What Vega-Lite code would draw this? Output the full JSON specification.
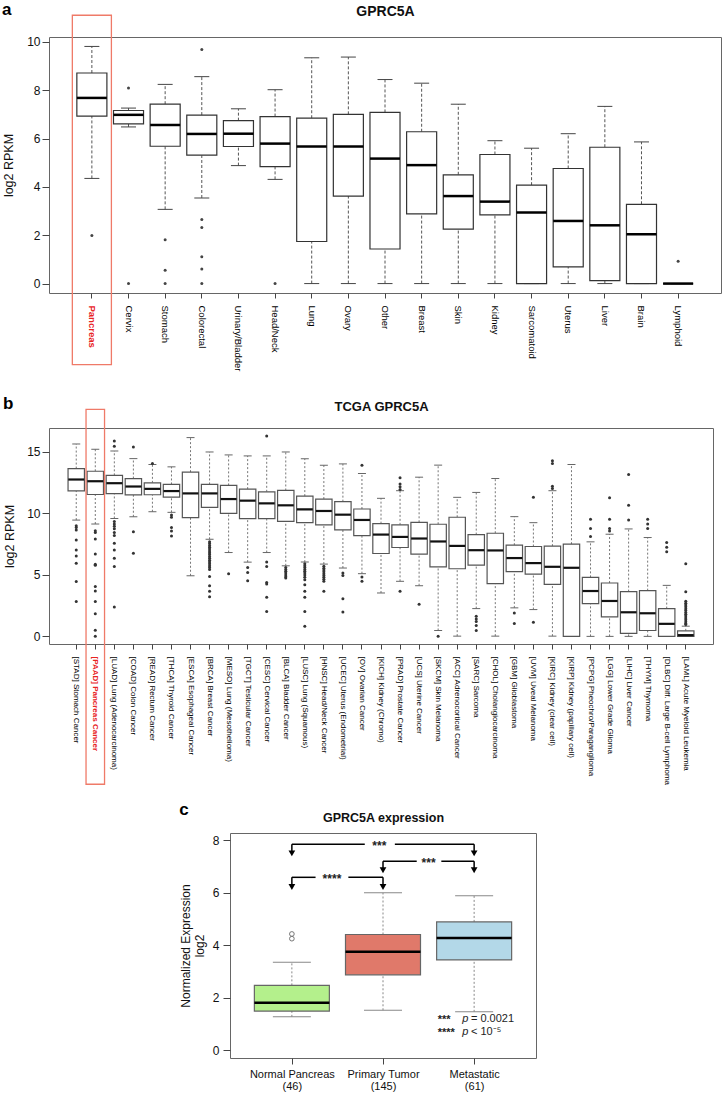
{
 "$schema": "https://vega.github.io/schema/vega-lite/v6.json",
 "padding": {"left": 1, "top": 0, "right": 0, "bottom": 0},
 "background": "white",
 "config": {
  "view": {"stroke": "#666", "strokeWidth": 1},
  "font": "Liberation Sans",
  "axis": {"grid": false, "domain": false, "tickColor": "#444", "labelColor": "#111", "titleColor": "#111", "titleFontWeight": "normal", "labelFont": "Liberation Sans", "titleFont": "Liberation Sans"},
  "title": {"color": "#000", "font": "Liberation Sans"}
 },
 "datasets": {
  "a_box": [
   {"cat": "Pancreas", "lower": 4.35, "q1": 6.93, "median": 7.68, "q3": 8.71, "upper": 9.81},
   {"cat": "Cervix", "lower": 6.48, "q1": 6.61, "median": 6.98, "q3": 7.16, "upper": 7.26},
   {"cat": "Stomach", "lower": 3.07, "q1": 5.68, "median": 6.56, "q3": 7.42, "upper": 8.24},
   {"cat": "Colorectal", "lower": 3.54, "q1": 5.31, "median": 6.19, "q3": 6.97, "upper": 8.56},
   {"cat": "Urinary/Bladder", "lower": 4.88, "q1": 5.67, "median": 6.2, "q3": 6.74, "upper": 7.23},
   {"cat": "Head/Neck", "lower": 4.31, "q1": 4.84, "median": 5.79, "q3": 6.91, "upper": 8.02},
   {"cat": "Lung", "lower": 0, "q1": 1.74, "median": 5.67, "q3": 6.84, "upper": 9.34},
   {"cat": "Ovary", "lower": 0, "q1": 3.62, "median": 5.67, "q3": 7.0, "upper": 9.37},
   {"cat": "Other", "lower": 0, "q1": 1.43, "median": 5.17, "q3": 7.08, "upper": 8.44},
   {"cat": "Breast", "lower": 0, "q1": 2.88, "median": 4.9, "q3": 6.28, "upper": 8.29},
   {"cat": "Skin", "lower": 0, "q1": 2.25, "median": 3.62, "q3": 4.5, "upper": 7.42},
   {"cat": "Kidney", "lower": 0, "q1": 2.84, "median": 3.39, "q3": 5.34, "upper": 5.91},
   {"cat": "Sarcomatoid", "lower": 0, "q1": 0, "median": 2.94, "q3": 4.07, "upper": 5.6},
   {"cat": "Uterus", "lower": 0, "q1": 0.69, "median": 2.59, "q3": 4.76, "upper": 6.2},
   {"cat": "Liver", "lower": 0, "q1": 0.12, "median": 2.41, "q3": 5.64, "upper": 7.33},
   {"cat": "Brain", "lower": 0, "q1": 0, "median": 2.04, "q3": 3.28, "upper": 5.86},
   {"cat": "Lymphoid", "lower": 0, "q1": 0, "median": 0, "q3": 0, "upper": 0}
  ],
  "a_out": [
   {"cat": "Pancreas", "v": 1.99},
   {"cat": "Cervix", "v": 8.09}, {"cat": "Cervix", "v": 0},
   {"cat": "Stomach", "v": 1.81}, {"cat": "Stomach", "v": 0.55}, {"cat": "Stomach", "v": 0},
   {"cat": "Colorectal", "v": 9.68}, {"cat": "Colorectal", "v": 2.65}, {"cat": "Colorectal", "v": 2.32}, {"cat": "Colorectal", "v": 1.11}, {"cat": "Colorectal", "v": 0.6}, {"cat": "Colorectal", "v": 0},
   {"cat": "Head/Neck", "v": 0},
   {"cat": "Lymphoid", "v": 0.92}
  ],
  "a_hl": [{"cat": "Pancreas", "top": 11.1, "bottom": -3.35}],
  "b_box": [
   {"cat": "[STAD] Stomach Cancer", "lower": 9.46, "q1": 11.84, "median": 12.76, "q3": 13.65, "upper": 15.65},
   {"cat": "[PAAD] Pancreas Cancer", "lower": 9.14, "q1": 11.54, "median": 12.62, "q3": 13.43, "upper": 15.22},
   {"cat": "[LUAD] Lung (Adenocarcinoma)", "lower": 9.59, "q1": 11.62, "median": 12.46, "q3": 13.1, "upper": 15.08},
   {"cat": "[COAD] Colon Cancer", "lower": 9.73, "q1": 11.51, "median": 12.19, "q3": 12.84, "upper": 14.46},
   {"cat": "[READ] Rectum Cancer", "lower": 10.14, "q1": 11.52, "median": 12.0, "q3": 12.49, "upper": 13.98},
   {"cat": "[THCA] Thyroid Cancer", "lower": 10.09, "q1": 11.33, "median": 11.82, "q3": 12.36, "upper": 13.79},
   {"cat": "[ESCA] Esophageal Cancer", "lower": 4.93, "q1": 9.66, "median": 11.63, "q3": 13.36, "upper": 16.17},
   {"cat": "[BRCA] Breast Cancer", "lower": 7.9, "q1": 10.5, "median": 11.63, "q3": 12.36, "upper": 15.0},
   {"cat": "[MESO] Lung (Mesothelioma)", "lower": 6.82, "q1": 10.01, "median": 11.17, "q3": 12.28, "upper": 14.76},
   {"cat": "[TGCT] Testicular Cancer", "lower": 6.04, "q1": 9.58, "median": 11.04, "q3": 11.98, "upper": 14.68},
   {"cat": "[CESC] Cervical Cancer", "lower": 6.82, "q1": 9.58, "median": 10.82, "q3": 11.76, "upper": 14.68},
   {"cat": "[BLCA] Bladder Cancer", "lower": 5.74, "q1": 9.36, "median": 10.66, "q3": 11.87, "upper": 15.0},
   {"cat": "[LUSC] Lung (Squamous)", "lower": 6.04, "q1": 9.25, "median": 10.33, "q3": 11.41, "upper": 14.44},
   {"cat": "[HNSC] Head/Neck Cancer", "lower": 5.88, "q1": 9.07, "median": 10.2, "q3": 11.17, "upper": 13.92},
   {"cat": "[UCEC] Uterus (Endometrial)", "lower": 5.56, "q1": 8.66, "median": 9.9, "q3": 10.96, "upper": 14.03},
   {"cat": "[OV] Ovarian Cancer", "lower": 5.1, "q1": 8.2, "median": 9.47, "q3": 10.36, "upper": 13.25},
   {"cat": "[KICH] Kidney (Chromo)", "lower": 3.53, "q1": 6.74, "median": 8.28, "q3": 9.17, "upper": 11.23},
   {"cat": "[PRAD] Prostate Cancer", "lower": 4.48, "q1": 7.23, "median": 8.09, "q3": 9.07, "upper": 11.85},
   {"cat": "[UCS] Uterine Cancer", "lower": 4.12, "q1": 6.69, "median": 7.96, "q3": 9.28, "upper": 12.95},
   {"cat": "[SKCM] Skin Melanoma", "lower": 0.48, "q1": 5.66, "median": 7.72, "q3": 9.12, "upper": 13.93},
   {"cat": "[ACC] Adrenocortical Cancer", "lower": 0.02, "q1": 5.5, "median": 7.36, "q3": 9.69, "upper": 11.31},
   {"cat": "[SARC] Sarcoma", "lower": 2.26, "q1": 5.8, "median": 7.01, "q3": 8.28, "upper": 11.71},
   {"cat": "[CHOL] Cholangiocarcinoma", "lower": 0.02, "q1": 4.29, "median": 6.99, "q3": 8.39, "upper": 12.84},
   {"cat": "[GBM] Glioblastoma", "lower": 2.32, "q1": 5.26, "median": 6.37, "q3": 7.42, "upper": 9.74},
   {"cat": "[UVM] Uveal Melanoma", "lower": 2.18, "q1": 5.07, "median": 5.96, "q3": 7.31, "upper": 9.25},
   {"cat": "[KIRC] Kidney (clear cell)", "lower": 0.02, "q1": 4.23, "median": 5.66, "q3": 7.34, "upper": 11.85},
   {"cat": "[KIRP] Kidney (papillary cell)", "lower": 0, "q1": 0, "median": 5.58, "q3": 7.5, "upper": 13.98},
   {"cat": "[PCPG] Pheochro/Paraganglioma", "lower": 0, "q1": 2.67, "median": 3.69, "q3": 4.8, "upper": 7.69},
   {"cat": "[LGG] Lower Grade Glioma", "lower": 0, "q1": 1.59, "median": 2.88, "q3": 4.34, "upper": 8.31},
   {"cat": "[LIHC] Liver Cancer", "lower": 0, "q1": 0.24, "median": 1.96, "q3": 3.64, "upper": 8.74},
   {"cat": "[THYM] Thymoma", "lower": 0, "q1": 0.48, "median": 1.88, "q3": 3.72, "upper": 8.04},
   {"cat": "[DLBC] Diff. Large B-cell Lymphoma", "lower": 0, "q1": 0, "median": 1.02, "q3": 2.26, "upper": 4.15},
   {"cat": "[LAML] Acute Myeloid Leukemia", "lower": 0, "q1": 0, "median": 0.1, "q3": 0.45, "upper": 0.83}
  ],
  "b_out": [
   {"cat": "[STAD] Stomach Cancer", "v": 9.0}, {"cat": "[STAD] Stomach Cancer", "v": 8.85}, {"cat": "[STAD] Stomach Cancer", "v": 8.65}, {"cat": "[STAD] Stomach Cancer", "v": 7.84}, {"cat": "[STAD] Stomach Cancer", "v": 7.03}, {"cat": "[STAD] Stomach Cancer", "v": 6.54}, {"cat": "[STAD] Stomach Cancer", "v": 5.95}, {"cat": "[STAD] Stomach Cancer", "v": 4.46}, {"cat": "[STAD] Stomach Cancer", "v": 2.84},
   {"cat": "[PAAD] Pancreas Cancer", "v": 8.6}, {"cat": "[PAAD] Pancreas Cancer", "v": 8.45}, {"cat": "[PAAD] Pancreas Cancer", "v": 7.92}, {"cat": "[PAAD] Pancreas Cancer", "v": 6.7}, {"cat": "[PAAD] Pancreas Cancer", "v": 5.86}, {"cat": "[PAAD] Pancreas Cancer", "v": 5.78}, {"cat": "[PAAD] Pancreas Cancer", "v": 4.05}, {"cat": "[PAAD] Pancreas Cancer", "v": 3.7}, {"cat": "[PAAD] Pancreas Cancer", "v": 2.84}, {"cat": "[PAAD] Pancreas Cancer", "v": 1.84}, {"cat": "[PAAD] Pancreas Cancer", "v": 0.49}, {"cat": "[PAAD] Pancreas Cancer", "v": 0.02},
   {"cat": "[LUAD] Lung (Adenocarcinoma)", "v": 15.9}, {"cat": "[LUAD] Lung (Adenocarcinoma)", "v": 15.46}, {"cat": "[LUAD] Lung (Adenocarcinoma)", "v": 9.35}, {"cat": "[LUAD] Lung (Adenocarcinoma)", "v": 9.15}, {"cat": "[LUAD] Lung (Adenocarcinoma)", "v": 8.95}, {"cat": "[LUAD] Lung (Adenocarcinoma)", "v": 8.75}, {"cat": "[LUAD] Lung (Adenocarcinoma)", "v": 8.45}, {"cat": "[LUAD] Lung (Adenocarcinoma)", "v": 8.2}, {"cat": "[LUAD] Lung (Adenocarcinoma)", "v": 7.57}, {"cat": "[LUAD] Lung (Adenocarcinoma)", "v": 7.03}, {"cat": "[LUAD] Lung (Adenocarcinoma)", "v": 6.35}, {"cat": "[LUAD] Lung (Adenocarcinoma)", "v": 5.68}, {"cat": "[LUAD] Lung (Adenocarcinoma)", "v": 2.38},
   {"cat": "[COAD] Colon Cancer", "v": 15.4}, {"cat": "[COAD] Colon Cancer", "v": 8.51}, {"cat": "[COAD] Colon Cancer", "v": 6.76},
   {"cat": "[READ] Rectum Cancer", "v": 14.06},
   {"cat": "[THCA] Thyroid Cancer", "v": 9.87}, {"cat": "[THCA] Thyroid Cancer", "v": 9.69}, {"cat": "[THCA] Thyroid Cancer", "v": 8.85}, {"cat": "[THCA] Thyroid Cancer", "v": 8.58}, {"cat": "[THCA] Thyroid Cancer", "v": 8.17},
   {"cat": "[BRCA] Breast Cancer", "v": 7.7}, {"cat": "[BRCA] Breast Cancer", "v": 7.55}, {"cat": "[BRCA] Breast Cancer", "v": 7.4}, {"cat": "[BRCA] Breast Cancer", "v": 7.25}, {"cat": "[BRCA] Breast Cancer", "v": 7.1}, {"cat": "[BRCA] Breast Cancer", "v": 6.95}, {"cat": "[BRCA] Breast Cancer", "v": 6.8}, {"cat": "[BRCA] Breast Cancer", "v": 6.65}, {"cat": "[BRCA] Breast Cancer", "v": 6.5}, {"cat": "[BRCA] Breast Cancer", "v": 6.35}, {"cat": "[BRCA] Breast Cancer", "v": 6.2}, {"cat": "[BRCA] Breast Cancer", "v": 6.05}, {"cat": "[BRCA] Breast Cancer", "v": 5.9}, {"cat": "[BRCA] Breast Cancer", "v": 5.75}, {"cat": "[BRCA] Breast Cancer", "v": 5.6}, {"cat": "[BRCA] Breast Cancer", "v": 5.45}, {"cat": "[BRCA] Breast Cancer", "v": 4.88}, {"cat": "[BRCA] Breast Cancer", "v": 4.12}, {"cat": "[BRCA] Breast Cancer", "v": 3.67}, {"cat": "[BRCA] Breast Cancer", "v": 3.23},
   {"cat": "[MESO] Lung (Mesothelioma)", "v": 5.1},
   {"cat": "[TGCT] Testicular Cancer", "v": 5.61}, {"cat": "[TGCT] Testicular Cancer", "v": 5.2}, {"cat": "[TGCT] Testicular Cancer", "v": 4.53},
   {"cat": "[CESC] Cervical Cancer", "v": 16.3}, {"cat": "[CESC] Cervical Cancer", "v": 6.04}, {"cat": "[CESC] Cervical Cancer", "v": 5.69}, {"cat": "[CESC] Cervical Cancer", "v": 4.39}, {"cat": "[CESC] Cervical Cancer", "v": 4.26}, {"cat": "[CESC] Cervical Cancer", "v": 3.18}, {"cat": "[CESC] Cervical Cancer", "v": 2.02},
   {"cat": "[BLCA] Bladder Cancer", "v": 5.6}, {"cat": "[BLCA] Bladder Cancer", "v": 5.45}, {"cat": "[BLCA] Bladder Cancer", "v": 5.3}, {"cat": "[BLCA] Bladder Cancer", "v": 5.15}, {"cat": "[BLCA] Bladder Cancer", "v": 5.0}, {"cat": "[BLCA] Bladder Cancer", "v": 4.85}, {"cat": "[BLCA] Bladder Cancer", "v": 4.75},
   {"cat": "[LUSC] Lung (Squamous)", "v": 5.9}, {"cat": "[LUSC] Lung (Squamous)", "v": 5.75}, {"cat": "[LUSC] Lung (Squamous)", "v": 5.6}, {"cat": "[LUSC] Lung (Squamous)", "v": 5.45}, {"cat": "[LUSC] Lung (Squamous)", "v": 5.3}, {"cat": "[LUSC] Lung (Squamous)", "v": 5.15}, {"cat": "[LUSC] Lung (Squamous)", "v": 5.0}, {"cat": "[LUSC] Lung (Squamous)", "v": 4.8}, {"cat": "[LUSC] Lung (Squamous)", "v": 4.6}, {"cat": "[LUSC] Lung (Squamous)", "v": 4.2}, {"cat": "[LUSC] Lung (Squamous)", "v": 3.67}, {"cat": "[LUSC] Lung (Squamous)", "v": 3.18}, {"cat": "[LUSC] Lung (Squamous)", "v": 2.02}, {"cat": "[LUSC] Lung (Squamous)", "v": 0.83},
   {"cat": "[HNSC] Head/Neck Cancer", "v": 5.7}, {"cat": "[HNSC] Head/Neck Cancer", "v": 5.55}, {"cat": "[HNSC] Head/Neck Cancer", "v": 5.4}, {"cat": "[HNSC] Head/Neck Cancer", "v": 5.25}, {"cat": "[HNSC] Head/Neck Cancer", "v": 5.1}, {"cat": "[HNSC] Head/Neck Cancer", "v": 4.95}, {"cat": "[HNSC] Head/Neck Cancer", "v": 4.8}, {"cat": "[HNSC] Head/Neck Cancer", "v": 4.65}, {"cat": "[HNSC] Head/Neck Cancer", "v": 4.48}, {"cat": "[HNSC] Head/Neck Cancer", "v": 3.67},
   {"cat": "[UCEC] Uterus (Endometrial)", "v": 5.15}, {"cat": "[UCEC] Uterus (Endometrial)", "v": 4.96}, {"cat": "[UCEC] Uterus (Endometrial)", "v": 3.07}, {"cat": "[UCEC] Uterus (Endometrial)", "v": 1.99},
   {"cat": "[OV] Ovarian Cancer", "v": 13.93}, {"cat": "[OV] Ovarian Cancer", "v": 4.83}, {"cat": "[OV] Ovarian Cancer", "v": 4.48},
   {"cat": "[PRAD] Prostate Cancer", "v": 12.9}, {"cat": "[PRAD] Prostate Cancer", "v": 12.39}, {"cat": "[PRAD] Prostate Cancer", "v": 12.17}, {"cat": "[PRAD] Prostate Cancer", "v": 11.95}, {"cat": "[PRAD] Prostate Cancer", "v": 3.67},
   {"cat": "[UCS] Uterine Cancer", "v": 2.61},
   {"cat": "[SKCM] Skin Melanoma", "v": 0.02},
   {"cat": "[SARC] Sarcoma", "v": 1.64}, {"cat": "[SARC] Sarcoma", "v": 1.42}, {"cat": "[SARC] Sarcoma", "v": 1.21}, {"cat": "[SARC] Sarcoma", "v": 0.88}, {"cat": "[SARC] Sarcoma", "v": 0.48},
   {"cat": "[GBM] Glioblastoma", "v": 1.91}, {"cat": "[GBM] Glioblastoma", "v": 1.05},
   {"cat": "[UVM] Uveal Melanoma", "v": 11.31}, {"cat": "[UVM] Uveal Melanoma", "v": 1.15},
   {"cat": "[KIRC] Kidney (clear cell)", "v": 14.28}, {"cat": "[KIRC] Kidney (clear cell)", "v": 14.06}, {"cat": "[KIRC] Kidney (clear cell)", "v": 12.22}, {"cat": "[KIRC] Kidney (clear cell)", "v": 12.03},
   {"cat": "[PCPG] Pheochro/Paraganglioma", "v": 9.52}, {"cat": "[PCPG] Pheochro/Paraganglioma", "v": 8.77}, {"cat": "[PCPG] Pheochro/Paraganglioma", "v": 8.12},
   {"cat": "[LGG] Lower Grade Glioma", "v": 11.28}, {"cat": "[LGG] Lower Grade Glioma", "v": 9.52}, {"cat": "[LGG] Lower Grade Glioma", "v": 8.77}, {"cat": "[LGG] Lower Grade Glioma", "v": 8.58},
   {"cat": "[LIHC] Liver Cancer", "v": 13.17}, {"cat": "[LIHC] Liver Cancer", "v": 10.66}, {"cat": "[LIHC] Liver Cancer", "v": 9.47},
   {"cat": "[THYM] Thymoma", "v": 9.52}, {"cat": "[THYM] Thymoma", "v": 9.15}, {"cat": "[THYM] Thymoma", "v": 8.77},
   {"cat": "[DLBC] Diff. Large B-cell Lymphoma", "v": 7.63}, {"cat": "[DLBC] Diff. Large B-cell Lymphoma", "v": 7.26}, {"cat": "[DLBC] Diff. Large B-cell Lymphoma", "v": 6.88},
   {"cat": "[LAML] Acute Myeloid Leukemia", "v": 5.91}, {"cat": "[LAML] Acute Myeloid Leukemia", "v": 3.64}, {"cat": "[LAML] Acute Myeloid Leukemia", "v": 2.85}, {"cat": "[LAML] Acute Myeloid Leukemia", "v": 2.7}, {"cat": "[LAML] Acute Myeloid Leukemia", "v": 2.55}, {"cat": "[LAML] Acute Myeloid Leukemia", "v": 2.4}, {"cat": "[LAML] Acute Myeloid Leukemia", "v": 2.25}, {"cat": "[LAML] Acute Myeloid Leukemia", "v": 2.1}, {"cat": "[LAML] Acute Myeloid Leukemia", "v": 1.95}, {"cat": "[LAML] Acute Myeloid Leukemia", "v": 1.8}, {"cat": "[LAML] Acute Myeloid Leukemia", "v": 1.65}, {"cat": "[LAML] Acute Myeloid Leukemia", "v": 1.5}, {"cat": "[LAML] Acute Myeloid Leukemia", "v": 1.35}, {"cat": "[LAML] Acute Myeloid Leukemia", "v": 1.2}, {"cat": "[LAML] Acute Myeloid Leukemia", "v": 1.05}, {"cat": "[LAML] Acute Myeloid Leukemia", "v": 0.96}
  ],
  "b_hl": [{"cat": "[PAAD] Pancreas Cancer", "top": 18.47, "bottom": -12.03}],
  "c_box": [
   {"group": "Normal Pancreas", "x": 1, "lower": 1.27, "q1": 1.49, "median": 1.81, "q3": 2.47, "upper": 3.35},
   {"group": "Primary Tumor", "x": 2, "lower": 1.52, "q1": 2.87, "median": 3.75, "q3": 4.41, "upper": 6.0},
   {"group": "Metastatic", "x": 3, "lower": 1.46, "q1": 3.44, "median": 4.28, "q3": 4.89, "upper": 5.89}
  ],
  "c_out": [{"x": 1, "v": 4.25}, {"x": 1, "v": 4.43}],
  "c_brackets": [
   {"x": 1, "x2": 1.8, "y": 7.85}, {"x": 2.13, "x2": 3, "y": 7.85},
   {"x": 2, "x2": 2.37, "y": 7.2}, {"x": 2.64, "x2": 3, "y": 7.2},
   {"x": 1, "x2": 1.26, "y": 6.59}, {"x": 1.62, "x2": 2, "y": 6.59}
  ],
  "c_stems": [
   {"x": 1, "y": 7.85, "y2": 7.5}, {"x": 3, "y": 7.85, "y2": 7.5},
   {"x": 2, "y": 7.2, "y2": 6.86}, {"x": 3, "y": 7.2, "y2": 6.86},
   {"x": 1, "y": 6.59, "y2": 6.22}, {"x": 2, "y": 6.59, "y2": 6.22}
  ],
  "c_heads": [
   {"x": 1, "y": 7.5}, {"x": 3, "y": 7.5},
   {"x": 2, "y": 6.86}, {"x": 3, "y": 6.86},
   {"x": 1, "y": 6.22}, {"x": 2, "y": 6.22}
  ],
  "c_stars": [
   {"x": 1.96, "y": 7.78, "t": "***"}, {"x": 2.5, "y": 7.13, "t": "***"}, {"x": 1.44, "y": 6.52, "t": "****"}
  ],
  "c_pval": [
   {"x": 2.6, "y": 1.15, "t": "***"}, {"x": 2.6, "y": 0.65, "t": "****"}
  ],
  "c_pitalic": [
   {"x": 2.87, "y": 1.2, "t": "p"}, {"x": 2.87, "y": 0.7, "t": "p"}
  ],
  "c_ptext": [
   {"x": 2.965, "y": 1.2, "t": "= 0.0021"}, {"x": 2.965, "y": 0.7, "t": "< 10⁻⁵"}
  ]
 },
 "spacing": 22,
 "vconcat": [
  {
   "title": {"text": "a", "anchor": "start", "frame": "bounds", "fontSize": 17, "fontWeight": "bold", "offset": -15},
   "width": 672, "height": 256,
   "encoding": {
    "x": {"field": "cat", "type": "nominal",
     "scale": {"type": "band", "domain": ["Pancreas", "Cervix", "Stomach", "Colorectal", "Urinary/Bladder", "Head/Neck", "Lung", "Ovary", "Other", "Breast", "Skin", "Kidney", "Sarcomatoid", "Uterus", "Liver", "Brain", "Lymphoid"], "paddingInner": 0.18, "paddingOuter": 0.76},
     "axis": null
    }
   },
   "layer": [
    {"data": {"name": "a_box"}, "mark": {"type": "rule", "strokeDash": [3, 2], "color": "#555", "strokeWidth": 1},
     "encoding": {"y": {"field": "lower", "type": "quantitative", "scale": {"domain": [-0.39, 10.2], "nice": false, "zero": false},
       "axis": {"title": "log2 RPKM", "values": [0, 2, 4, 6, 8, 10], "tickSize": 7, "labelPadding": 2, "labelFontSize": 12, "titleFontSize": 12.5, "titlePadding": 12, "minExtent": 22, "maxExtent": 22}},
      "y2": {"field": "q1"}}},
    {"data": {"name": "a_box"}, "mark": {"type": "rule", "strokeDash": [3, 2], "color": "#555", "strokeWidth": 1},
     "encoding": {"y": {"field": "q3", "type": "quantitative"}, "y2": {"field": "upper"}}},
    {"data": {"name": "a_box"}, "mark": {"type": "tick", "size": 15, "thickness": 1, "color": "#444", "opacity": 1},
     "encoding": {"y": {"field": "lower", "type": "quantitative"}}},
    {"data": {"name": "a_box"}, "mark": {"type": "tick", "size": 15, "thickness": 1, "color": "#444", "opacity": 1},
     "encoding": {"y": {"field": "upper", "type": "quantitative"}}},
    {"data": {"name": "a_box"}, "mark": {"type": "bar", "fill": "white", "stroke": "#333", "strokeWidth": 1.2},
     "encoding": {
      "x": {"field": "cat", "type": "nominal",
       "scale": {"type": "band", "domain": ["Pancreas", "Cervix", "Stomach", "Colorectal", "Urinary/Bladder", "Head/Neck", "Lung", "Ovary", "Other", "Breast", "Skin", "Kidney", "Sarcomatoid", "Uterus", "Liver", "Brain", "Lymphoid"], "paddingInner": 0.18, "paddingOuter": 0.76},
       "axis": {"orient": "bottom", "title": null, "labelAngle": 90, "labelFontSize": 9.5, "labelPadding": 7, "tickSize": 5, "labelOverlap": false,
        "labelColor": {"condition": {"test": "datum.value === 'Pancreas'", "value": "#e8231f"}, "value": "black"},
        "labelFontWeight": {"condition": {"test": "datum.value === 'Pancreas'", "value": "bold"}, "value": "normal"}}},
      "y": {"field": "q1", "type": "quantitative"}, "y2": {"field": "q3"}}},
    {"data": {"name": "a_box"}, "mark": {"type": "tick", "size": 30, "thickness": 2.5, "color": "#000", "opacity": 1},
     "encoding": {"y": {"field": "median", "type": "quantitative"}}},
    {"data": {"name": "a_out"}, "mark": {"type": "point", "filled": true, "size": 9, "color": "#444", "opacity": 1},
     "encoding": {"y": {"field": "v", "type": "quantitative"}}},
    {"data": {"name": "a_hl"}, "mark": {"type": "bar", "fill": "white", "fillOpacity": 0, "stroke": "#ef7a68", "strokeWidth": 1.3, "width": {"band": 1.3}},
     "encoding": {
      "x": {"field": "cat", "type": "nominal",
       "scale": {"type": "band", "domain": ["Pancreas", "Cervix", "Stomach", "Colorectal", "Urinary/Bladder", "Head/Neck", "Lung", "Ovary", "Other", "Breast", "Skin", "Kidney", "Sarcomatoid", "Uterus", "Liver", "Brain", "Lymphoid"], "paddingInner": 0.18, "paddingOuter": 0.76},
       "axis": {"orient": "top", "title": "GPRC5A", "labels": false, "ticks": false, "domain": false, "titleFontSize": 14, "titleFontWeight": "bold", "titlePadding": 19}},
      "y": {"field": "top", "type": "quantitative"}, "y2": {"field": "bottom"}}}
   ]
  },
  {
   "spacing": 14,
   "vconcat": [
    {
     "title": {"text": "b", "anchor": "start", "frame": "bounds", "fontSize": 17, "fontWeight": "bold", "offset": -13},
     "width": 664, "height": 216,
     "encoding": {
      "x": {"field": "cat", "type": "nominal",
       "scale": {"type": "band", "domain": ["[STAD] Stomach Cancer", "[PAAD] Pancreas Cancer", "[LUAD] Lung (Adenocarcinoma)", "[COAD] Colon Cancer", "[READ] Rectum Cancer", "[THCA] Thyroid Cancer", "[ESCA] Esophageal Cancer", "[BRCA] Breast Cancer", "[MESO] Lung (Mesothelioma)", "[TGCT] Testicular Cancer", "[CESC] Cervical Cancer", "[BLCA] Bladder Cancer", "[LUSC] Lung (Squamous)", "[HNSC] Head/Neck Cancer", "[UCEC] Uterus (Endometrial)", "[OV] Ovarian Cancer", "[KICH] Kidney (Chromo)", "[PRAD] Prostate Cancer", "[UCS] Uterine Cancer", "[SKCM] Skin Melanoma", "[ACC] Adrenocortical Cancer", "[SARC] Sarcoma", "[CHOL] Cholangiocarcinoma", "[GBM] Glioblastoma", "[UVM] Uveal Melanoma", "[KIRC] Kidney (clear cell)", "[KIRP] Kidney (papillary cell)", "[PCPG] Pheochro/Paraganglioma", "[LGG] Lower Grade Glioma", "[LIHC] Liver Cancer", "[THYM] Thymoma", "[DLBC] Diff. Large B-cell Lymphoma", "[LAML] Acute Myeloid Leukemia"], "paddingInner": 0.14, "paddingOuter": 1.34},
       "axis": null
      }
     },
     "layer": [
      {"data": {"name": "b_box"}, "mark": {"type": "rule", "strokeDash": [2, 2], "color": "#777", "strokeWidth": 1},
       "encoding": {"y": {"field": "lower", "type": "quantitative", "scale": {"domain": [-0.62, 16.95], "nice": false, "zero": false},
         "axis": {"title": "log2 RPKM", "values": [0, 5, 10, 15], "tickSize": 7, "labelPadding": 2, "labelFontSize": 12, "titleFontSize": 12.5, "titlePadding": 11, "minExtent": 22, "maxExtent": 22}},
        "y2": {"field": "q1"}}},
      {"data": {"name": "b_box"}, "mark": {"type": "rule", "strokeDash": [2, 2], "color": "#777", "strokeWidth": 1},
       "encoding": {"y": {"field": "q3", "type": "quantitative"}, "y2": {"field": "upper"}}},
      {"data": {"name": "b_box"}, "mark": {"type": "tick", "size": 8, "thickness": 1, "color": "#666", "opacity": 1},
       "encoding": {"y": {"field": "lower", "type": "quantitative"}}},
      {"data": {"name": "b_box"}, "mark": {"type": "tick", "size": 8, "thickness": 1, "color": "#666", "opacity": 1},
       "encoding": {"y": {"field": "upper", "type": "quantitative"}}},
      {"data": {"name": "b_box"}, "mark": {"type": "bar", "fill": "white", "stroke": "#555", "strokeWidth": 1.2},
       "encoding": {
        "x": {"field": "cat", "type": "nominal",
         "scale": {"type": "band", "domain": ["[STAD] Stomach Cancer", "[PAAD] Pancreas Cancer", "[LUAD] Lung (Adenocarcinoma)", "[COAD] Colon Cancer", "[READ] Rectum Cancer", "[THCA] Thyroid Cancer", "[ESCA] Esophageal Cancer", "[BRCA] Breast Cancer", "[MESO] Lung (Mesothelioma)", "[TGCT] Testicular Cancer", "[CESC] Cervical Cancer", "[BLCA] Bladder Cancer", "[LUSC] Lung (Squamous)", "[HNSC] Head/Neck Cancer", "[UCEC] Uterus (Endometrial)", "[OV] Ovarian Cancer", "[KICH] Kidney (Chromo)", "[PRAD] Prostate Cancer", "[UCS] Uterine Cancer", "[SKCM] Skin Melanoma", "[ACC] Adrenocortical Cancer", "[SARC] Sarcoma", "[CHOL] Cholangiocarcinoma", "[GBM] Glioblastoma", "[UVM] Uveal Melanoma", "[KIRC] Kidney (clear cell)", "[KIRP] Kidney (papillary cell)", "[PCPG] Pheochro/Paraganglioma", "[LGG] Lower Grade Glioma", "[LIHC] Liver Cancer", "[THYM] Thymoma", "[DLBC] Diff. Large B-cell Lymphoma", "[LAML] Acute Myeloid Leukemia"], "paddingInner": 0.14, "paddingOuter": 1.34},
         "axis": {"orient": "bottom", "title": null, "labelAngle": 90, "labelFontSize": 8, "labelPadding": 7, "tickSize": 5, "labelOverlap": false, "labelLimit": 300,
          "labelColor": {"condition": {"test": "datum.value === '[PAAD] Pancreas Cancer'", "value": "#e8231f"}, "value": "black"},
          "labelFontWeight": {"condition": {"test": "datum.value === '[PAAD] Pancreas Cancer'", "value": "bold"}, "value": "normal"}}},
        "y": {"field": "q1", "type": "quantitative"}, "y2": {"field": "q3"}}},
      {"data": {"name": "b_box"}, "mark": {"type": "tick", "size": 16, "thickness": 2.2, "color": "#111", "opacity": 1},
       "encoding": {"y": {"field": "median", "type": "quantitative"}}},
      {"data": {"name": "b_out"}, "mark": {"type": "point", "filled": true, "size": 9, "color": "#333", "opacity": 1},
       "encoding": {"y": {"field": "v", "type": "quantitative"}}},
      {"data": {"name": "b_hl"}, "mark": {"type": "bar", "fill": "white", "fillOpacity": 0, "stroke": "#ef7a68", "strokeWidth": 1.3, "width": {"band": 1.13}},
       "encoding": {
        "x": {"field": "cat", "type": "nominal",
         "scale": {"type": "band", "domain": ["[STAD] Stomach Cancer", "[PAAD] Pancreas Cancer", "[LUAD] Lung (Adenocarcinoma)", "[COAD] Colon Cancer", "[READ] Rectum Cancer", "[THCA] Thyroid Cancer", "[ESCA] Esophageal Cancer", "[BRCA] Breast Cancer", "[MESO] Lung (Mesothelioma)", "[TGCT] Testicular Cancer", "[CESC] Cervical Cancer", "[BLCA] Bladder Cancer", "[LUSC] Lung (Squamous)", "[HNSC] Head/Neck Cancer", "[UCEC] Uterus (Endometrial)", "[OV] Ovarian Cancer", "[KICH] Kidney (Chromo)", "[PRAD] Prostate Cancer", "[UCS] Uterine Cancer", "[SKCM] Skin Melanoma", "[ACC] Adrenocortical Cancer", "[SARC] Sarcoma", "[CHOL] Cholangiocarcinoma", "[GBM] Glioblastoma", "[UVM] Uveal Melanoma", "[KIRC] Kidney (clear cell)", "[KIRP] Kidney (papillary cell)", "[PCPG] Pheochro/Paraganglioma", "[LGG] Lower Grade Glioma", "[LIHC] Liver Cancer", "[THYM] Thymoma", "[DLBC] Diff. Large B-cell Lymphoma", "[LAML] Acute Myeloid Leukemia"], "paddingInner": 0.14, "paddingOuter": 1.34},
         "axis": {"orient": "top", "title": "TCGA GPRC5A", "labels": false, "ticks": false, "domain": false, "titleFontSize": 13, "titleFontWeight": "bold", "titlePadding": 15}},
        "y": {"field": "top", "type": "quantitative"}, "y2": {"field": "bottom"}}}
     ]
    },
    {
     "spacing": 0,
     "hconcat": [
      {"width": 129, "height": 10, "view": {"stroke": null}, "data": {"values": []}, "mark": "point"},
      {
       "title": {"text": "c", "anchor": "start", "frame": "bounds", "fontSize": 17, "fontWeight": "bold", "offset": -8},
       "width": 306, "height": 225,
       "encoding": {
        "x": {"field": "x", "type": "quantitative", "scale": {"domain": [0.376, 3.624], "nice": false, "zero": false}, "axis": null}
       },
       "layer": [
        {"data": {"name": "c_box"}, "mark": {"type": "rule", "strokeDash": [2, 2], "color": "#888", "strokeWidth": 1},
         "encoding": {"y": {"field": "lower", "type": "quantitative", "scale": {"domain": [-0.3, 8.28], "nice": false, "zero": false},
           "axis": {"title": ["Normalized Expression", "log2"], "values": [0, 2, 4, 6, 8], "tickSize": 7, "labelPadding": 4, "labelFontSize": 12, "titleFontSize": 12, "titlePadding": 6}},
          "y2": {"field": "q1"}}},
        {"data": {"name": "c_box"}, "mark": {"type": "rule", "strokeDash": [2, 2], "color": "#888", "strokeWidth": 1},
         "encoding": {"y": {"field": "q3", "type": "quantitative"}, "y2": {"field": "upper"}}},
        {"data": {"name": "c_box"}, "mark": {"type": "tick", "orient": "horizontal", "size": 38, "thickness": 1, "color": "#888", "opacity": 1},
         "encoding": {"y": {"field": "lower", "type": "quantitative"}}},
        {"data": {"name": "c_box"}, "mark": {"type": "tick", "orient": "horizontal", "size": 38, "thickness": 1, "color": "#888", "opacity": 1},
         "encoding": {"y": {"field": "upper", "type": "quantitative"}}},
        {"data": {"name": "c_box"}, "mark": {"type": "bar", "width": 75, "stroke": "#666", "strokeWidth": 1.2, "opacity": 1},
         "encoding": {
          "x": {"field": "x", "type": "quantitative", "scale": {"domain": [0.376, 3.624], "nice": false, "zero": false},
           "axis": {"orient": "bottom", "title": null, "values": [1, 2, 3], "tickSize": 6, "labelPadding": 4, "labelFontSize": 11, "labelLineHeight": 12, "labelFontWeight": "normal",
            "labelExpr": "datum.value == 1 ? ['Normal Pancreas', '(46)'] : datum.value == 2 ? ['Primary Tumor', '(145)'] : ['Metastatic', '(61)']"}},
          "y": {"field": "q1", "type": "quantitative"}, "y2": {"field": "q3"},
          "color": {"field": "group", "type": "nominal", "scale": {"domain": ["Normal Pancreas", "Primary Tumor", "Metastatic"], "range": ["#b4f08c", "#e0796a", "#b3d8e8"]}, "legend": null}}},
        {"data": {"name": "c_box"}, "mark": {"type": "tick", "orient": "horizontal", "size": 75, "thickness": 2.5, "color": "#000", "opacity": 1},
         "encoding": {"y": {"field": "median", "type": "quantitative"}}},
        {"data": {"name": "c_out"}, "mark": {"type": "point", "filled": false, "size": 22, "color": "#777", "strokeWidth": 1, "opacity": 1},
         "encoding": {"y": {"field": "v", "type": "quantitative"}}},
        {"data": {"name": "c_brackets"}, "mark": {"type": "rule", "color": "#000", "strokeWidth": 1.5},
         "encoding": {
          "x": {"field": "x", "type": "quantitative", "scale": {"domain": [0.376, 3.624], "nice": false, "zero": false},
           "axis": {"orient": "top", "title": "GPRC5A expression", "labels": false, "ticks": false, "domain": false, "titleFontSize": 12.5, "titleFontWeight": "bold", "titlePadding": 9}},
          "x2": {"field": "x2"}, "y": {"field": "y", "type": "quantitative"}}},
        {"data": {"name": "c_stems"}, "mark": {"type": "rule", "color": "#000", "strokeWidth": 1.5},
         "encoding": {"y": {"field": "y", "type": "quantitative"}, "y2": {"field": "y2"}}},
        {"data": {"name": "c_heads"}, "mark": {"type": "point", "shape": "triangle-down", "filled": true, "size": 45, "color": "#000", "opacity": 1},
         "encoding": {"y": {"field": "y", "type": "quantitative"}}},
        {"data": {"name": "c_stars"}, "mark": {"type": "text", "fontSize": 12, "fontWeight": "bold", "baseline": "middle", "align": "center", "color": "#222"},
         "encoding": {"y": {"field": "y", "type": "quantitative"}, "text": {"field": "t"}}},
        {"data": {"name": "c_pval"}, "mark": {"type": "text", "fontSize": 11, "fontWeight": "bold", "baseline": "middle", "align": "left", "color": "#222"},
         "encoding": {"y": {"field": "y", "type": "quantitative"}, "text": {"field": "t"}}},
        {"data": {"name": "c_pitalic"}, "mark": {"type": "text", "fontSize": 11, "fontStyle": "italic", "baseline": "middle", "align": "left", "color": "#222"},
         "encoding": {"y": {"field": "y", "type": "quantitative"}, "text": {"field": "t"}}},
        {"data": {"name": "c_ptext"}, "mark": {"type": "text", "fontSize": 11, "baseline": "middle", "align": "left", "color": "#222"},
         "encoding": {"y": {"field": "y", "type": "quantitative"}, "text": {"field": "t"}}}
       ]
      }
     ]
    }
   ]
  }
 ]
}
